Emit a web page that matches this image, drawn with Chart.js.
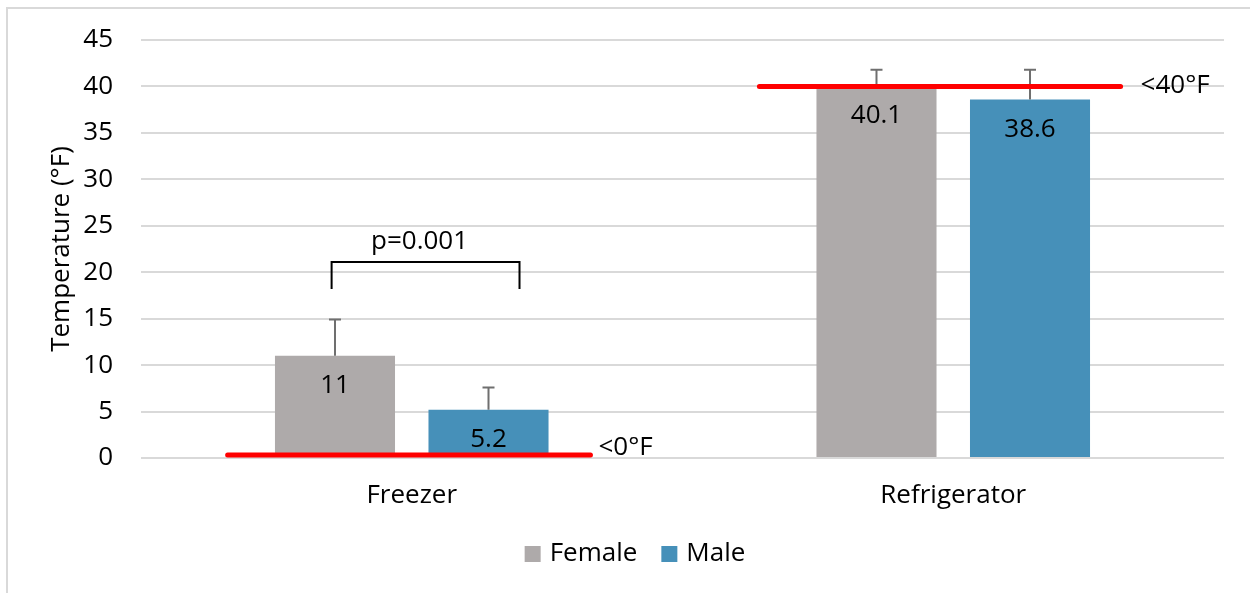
<!DOCTYPE html>
<html>
<head>
<meta charset="utf-8">
<title>Storage temperature by gender</title>
<script src="https://cdn.jsdelivr.net/npm/chart.js@4.4.1/dist/chart.umd.min.js"></script>
<style>
  html, body { margin: 0; padding: 0; background: #fff; }
  #wrap { width: 1250px; height: 593px; position: relative; }
</style>
</head>
<body>
<div id="wrap"><canvas id="chart" width="1250" height="593"></canvas></div>
<script>
const categories = ['Freezer', 'Refrigerator'];
const femaleTemps = [11, 40.1];
const maleTemps = [5.2, 38.6];
const femaleErr = [3.9, 1.7];
const maleErr = [2.4, 3.2];
const yTicks = [0, 5, 10, 15, 20, 25, 30, 35, 40, 45];

// safe-storage limits per category
const limitValues = [0, 40];
const limitLabels = ['<0°F', '<40°F'];

// significance bracket over the freezer bars
const bracketCategory = 0;
const bracketTop = 21.1;
const bracketFoot = 18.2;
const bracketText = 'p=0.001';

const FONT = '"Open Sans", "Liberation Sans", sans-serif';
const fontSize = 26;
const textColor = '#000';

// line extents as fractions of the category width, label offsets in px
const limitStyle = [
  { from: -0.34, to: 0.33, labelDx: 8, labelDy: -7 },
  { from: -0.358, to: 0.309, labelDx: 20, labelDy: -1 },
];

const frameBorder = {
  id: 'frameBorder',
  beforeDraw(chart) {
    const ctx = chart.ctx;
    ctx.save();
    ctx.strokeStyle = '#d9d9d9';
    ctx.lineWidth = 2;
    ctx.strokeRect(7, 8, chart.width + 20, chart.height + 20);
    ctx.restore();
  },
};

const errorBars = {
  id: 'errorBars',
  afterDatasetsDraw(chart) {
    const ctx = chart.ctx;
    const y = chart.scales.y;
    const errs = [femaleErr, maleErr];
    ctx.save();
    ctx.strokeStyle = '#6f6f6f';
    ctx.lineWidth = 2;
    chart.data.datasets.forEach((ds, di) => {
      chart.getDatasetMeta(di).data.forEach((bar, i) => {
        const top = y.getPixelForValue(ds.data[i] + errs[di][i]);
        ctx.beginPath();
        ctx.moveTo(bar.x, bar.y);
        ctx.lineTo(bar.x, top);
        ctx.moveTo(bar.x - 6, top);
        ctx.lineTo(bar.x + 6, top);
        ctx.stroke();
      });
    });
    ctx.restore();
  },
};

const valueLabels = {
  id: 'valueLabels',
  afterDatasetsDraw(chart) {
    const ctx = chart.ctx;
    ctx.save();
    ctx.font = `${fontSize}px ${FONT}`;
    ctx.fillStyle = textColor;
    ctx.textAlign = 'center';
    ctx.textBaseline = 'middle';
    chart.data.datasets.forEach((ds, di) => {
      chart.getDatasetMeta(di).data.forEach((bar, i) => {
        ctx.fillText(String(ds.data[i]), bar.x, bar.y + 30);
      });
    });
    ctx.restore();
  },
};

const limitLines = {
  id: 'limitLines',
  afterDatasetsDraw(chart) {
    const ctx = chart.ctx;
    const x = chart.scales.x;
    const y = chart.scales.y;
    const catW = (x.right - x.left) / categories.length;
    ctx.save();
    limitValues.forEach((v, i) => {
      const cx = x.getPixelForValue(i);
      // keep the thick line above the axis when it sits on zero
      const py = Math.min(y.getPixelForValue(v), y.bottom - 3);
      const x0 = cx + limitStyle[i].from * catW;
      const x1 = cx + limitStyle[i].to * catW;
      ctx.strokeStyle = '#ff0000';
      ctx.lineWidth = 5;
      ctx.lineCap = 'round';
      ctx.beginPath();
      ctx.moveTo(x0, py);
      ctx.lineTo(x1, py);
      ctx.stroke();
      ctx.font = `${fontSize}px ${FONT}`;
      ctx.fillStyle = textColor;
      ctx.textAlign = 'left';
      ctx.textBaseline = 'middle';
      ctx.fillText(limitLabels[i], x1 + limitStyle[i].labelDx, py + limitStyle[i].labelDy);
    });
    ctx.restore();
  },
};

const sigBracket = {
  id: 'sigBracket',
  afterDatasetsDraw(chart) {
    const ctx = chart.ctx;
    const x = chart.scales.x;
    const y = chart.scales.y;
    const catW = (x.right - x.left) / categories.length;
    const cx = x.getPixelForValue(bracketCategory);
    const x0 = cx - 0.148 * catW;
    const x1 = cx + 0.199 * catW;
    const yt = y.getPixelForValue(bracketTop);
    const yf = y.getPixelForValue(bracketFoot);
    ctx.save();
    ctx.strokeStyle = '#000';
    ctx.lineWidth = 2;
    ctx.beginPath();
    ctx.moveTo(x0, yf);
    ctx.lineTo(x0, yt);
    ctx.lineTo(x1, yt);
    ctx.lineTo(x1, yf);
    ctx.stroke();
    ctx.font = `${fontSize}px ${FONT}`;
    ctx.fillStyle = textColor;
    ctx.textAlign = 'center';
    ctx.textBaseline = 'middle';
    ctx.fillText(bracketText, (x0 + x1) / 2 - 6, yt - 20);
    ctx.restore();
  },
};

// legend row centred under the plot, squares + names
const bottomLegend = {
  id: 'bottomLegend',
  afterDraw(chart) {
    const ctx = chart.ctx;
    const centerX = 635;
    const rowY = 554;
    const box = 16;
    const gap = 9;
    const itemGap = 24;
    ctx.save();
    ctx.font = `${fontSize}px ${FONT}`;
    ctx.textBaseline = 'middle';
    ctx.textAlign = 'left';
    const items = chart.data.datasets.map((ds) => ({
      text: ds.label,
      color: ds.backgroundColor,
      w: box + gap + ctx.measureText(ds.label).width,
    }));
    const total = items.reduce((s, it) => s + it.w, 0) + itemGap * (items.length - 1);
    let x = centerX - total / 2;
    items.forEach((it) => {
      ctx.fillStyle = it.color;
      ctx.fillRect(x, rowY - box / 2, box, box);
      ctx.fillStyle = textColor;
      ctx.fillText(it.text, x + box + gap, rowY);
      x += it.w + itemGap;
    });
    ctx.restore();
  },
};

new Chart(document.getElementById('chart'), {
  type: 'bar',
  data: {
    labels: categories,
    datasets: [
      {
        label: 'Female',
        data: femaleTemps,
        backgroundColor: '#aeaaaa',
        categoryPercentage: 0.567,
        barPercentage: 0.782,
      },
      {
        label: 'Male',
        data: maleTemps,
        backgroundColor: '#4690b9',
        categoryPercentage: 0.567,
        barPercentage: 0.782,
      },
    ],
  },
  options: {
    responsive: false,
    animation: false,
    layout: { padding: { left: 7, top: 40, right: 26, bottom: 63 } },
    plugins: {
      tooltip: { enabled: false },
      legend: { display: false },
    },
    scales: {
      x: {
        grid: { display: false, drawTicks: false },
        border: { display: false },
        ticks: { color: textColor, padding: 22, font: { family: FONT, size: fontSize } },
        afterFit(scale) { scale.height = 72; },
      },
      y: {
        min: 0,
        max: 45,
        afterBuildTicks(scale) { scale.ticks = yTicks.map((v) => ({ value: v })); },
        grid: { color: '#d9d9d9', lineWidth: 2, drawTicks: false },
        border: { display: false },
        ticks: { color: textColor, padding: 28, font: { family: FONT, size: fontSize } },
        title: {
          display: true,
          text: 'Temperature (°F)',
          color: textColor,
          font: { family: FONT, size: fontSize },
          padding: { top: 39, bottom: 0 },
        },
        afterFit(scale) {
          scale.width = 134;
          scale.paddingTop = 0;
          scale.paddingBottom = 0;
        },
      },
    },
  },
  plugins: [frameBorder, errorBars, valueLabels, limitLines, sigBracket, bottomLegend],
});
</script>
</body>
</html>
